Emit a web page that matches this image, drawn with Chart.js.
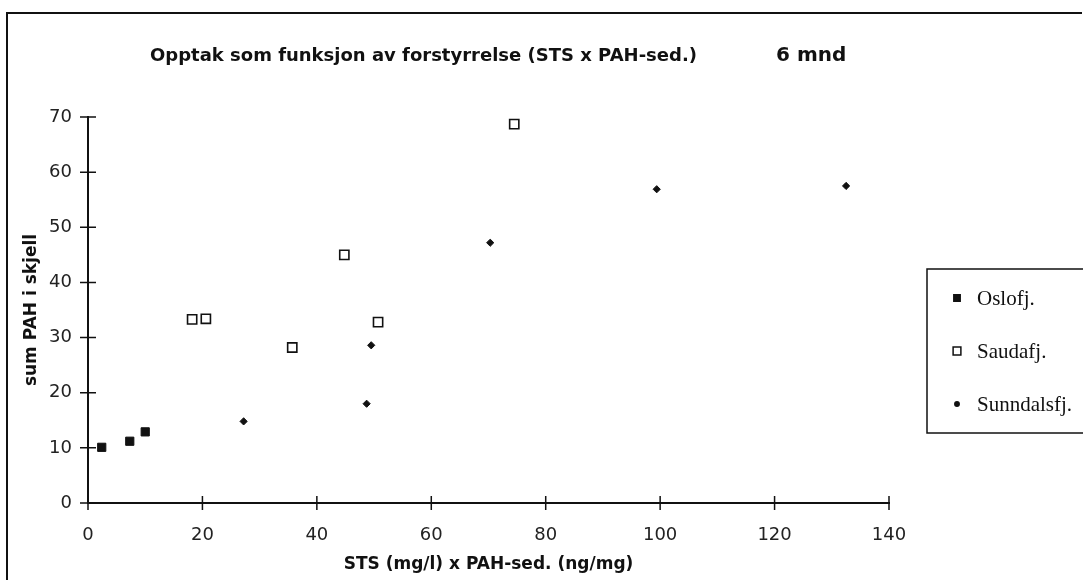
<!DOCTYPE html>
<html>
<head>
<meta charset="utf-8">
<script src="https://cdn.jsdelivr.net/npm/chart.js@4/dist/chart.umd.min.js"></script>
<style>
  html, body { margin: 0; padding: 0; background: #fff; }
  #wrap { width: 1083px; height: 580px; position: relative; }
</style>
</head>
<body>
<div id="wrap"><canvas id="myChart"></canvas></div>
<script>
// data
const osloX = [2.4, 7.3, 10.0];
const osloY = [10.1, 11.2, 12.9];
const saudaX = [18.2, 20.6, 35.7, 44.8, 50.7, 74.5];
const saudaY = [33.3, 33.4, 28.2, 45.0, 32.8, 68.7];
const sunnX = [27.2, 48.7, 49.5, 70.3, 99.4, 132.5];
const sunnY = [14.8, 18.0, 28.6, 47.2, 56.9, 57.5];

const seriesNames = ['Oslofj.', 'Saudafj.', 'Sunndalsfj.'];
const xTicks = [0, 20, 40, 60, 80, 100, 120, 140];
const yTicks = [0, 10, 20, 30, 40, 50, 60, 70];

const toPoints = (xs, ys) => xs.map((x, i) => ({ x: x, y: ys[i] }));

// ramme, tittel, kryssende tick-streker og legendeboks
const paperPlugin = {
  id: 'paper',
  beforeDraw(chart) {
    const ctx = chart.ctx;
    ctx.save();
    ctx.fillStyle = '#fff';
    ctx.fillRect(0, 0, chart.width, chart.height);
    ctx.strokeStyle = '#111';
    ctx.lineWidth = 2;
    ctx.beginPath();
    ctx.moveTo(7, chart.height);
    ctx.lineTo(7, 13);
    ctx.lineTo(1082, 13);
    ctx.stroke();
    ctx.restore();
  },
  afterDraw(chart) {
    const ctx = chart.ctx;
    const xs = chart.scales.x;
    const ys = chart.scales.y;
    const area = chart.chartArea;
    ctx.save();

    // tittel
    ctx.fillStyle = '#111';
    ctx.font = 'bold 18px "DejaVu Sans"';
    ctx.textBaseline = 'middle';
    ctx.textAlign = 'left';
    ctx.fillText('Opptak som funksjon av forstyrrelse (STS x PAH-sed.)', 150, 56);
    ctx.font = 'bold 20px "DejaVu Sans"';
    ctx.fillText('6 mnd', 776, 56);

    // tick-streker på tvers av aksene
    ctx.strokeStyle = '#111';
    ctx.lineWidth = 1.5;
    ctx.beginPath();
    xTicks.forEach(v => {
      const px = xs.getPixelForValue(v);
      ctx.moveTo(px, area.bottom - 7);
      ctx.lineTo(px, area.bottom + 7);
    });
    yTicks.forEach(v => {
      const py = ys.getPixelForValue(v);
      ctx.moveTo(area.left - 8, py);
      ctx.lineTo(area.left + 8, py);
    });
    ctx.stroke();

    // legende
    ctx.lineWidth = 1.5;
    ctx.strokeRect(927, 269, 200, 164);
    ctx.font = '21px "Liberation Serif"';
    const rowY = [298, 351, 404];
    const legendStyle = [
      { pointStyle: 'rect', radius: 4.5, borderWidth: 1, fill: '#111' },
      { pointStyle: 'rect', radius: 5.5, borderWidth: 1.3, fill: '#fff' },
      { pointStyle: 'circle', radius: 2.2, borderWidth: 1, fill: '#111' }
    ];
    seriesNames.forEach((name, i) => {
      ctx.fillStyle = legendStyle[i].fill;
      ctx.strokeStyle = '#111';
      Chart.helpers.drawPoint(ctx, legendStyle[i], 957, rowY[i]);
      ctx.fillStyle = '#111';
      ctx.fillText(name, 977, rowY[i] + 1);
    });
    ctx.restore();
  }
};

const ctx = document.getElementById('myChart').getContext('2d');
const myChart = new Chart(ctx, {
  type: 'scatter',
  data: {
    datasets: [{
      label: seriesNames[0],
      data: toPoints(osloX, osloY),
      pointStyle: 'rect',
      pointRadius: 5.8,
      backgroundColor: '#111',
      borderColor: '#111',
      borderWidth: 1
    }, {
      label: seriesNames[1],
      data: toPoints(saudaX, saudaY),
      pointStyle: 'rect',
      pointRadius: 6.5,
      backgroundColor: '#fff',
      borderColor: '#111',
      borderWidth: 1.6
    }, {
      label: seriesNames[2],
      data: toPoints(sunnX, sunnY),
      pointStyle: 'rectRot',
      pointRadius: 3.6,
      backgroundColor: '#111',
      borderColor: '#111',
      borderWidth: 1
    }]
  },
  options: {
    responsive: true,
    maintainAspectRatio: false,
    animation: false,
    layout: {
      padding: { left: 21, right: 194, top: 117, bottom: 0 }
    },
    plugins: {
      legend: { display: false },
      title: { display: false },
      tooltip: { enabled: false }
    },
    scales: {
      x: {
        type: 'linear',
        min: 0,
        max: 140,
        afterFit: scale => { scale.height = 77; },
        afterBuildTicks: scale => { scale.ticks = xTicks.map(v => ({ value: v })); },
        grid: { display: false },
        border: { display: true, color: '#111', width: 2 },
        ticks: {
          padding: 14,
          color: '#222',
          font: { family: '"DejaVu Sans"', size: 18 }
        },
        title: {
          display: true,
          text: 'STS (mg/l) x PAH-sed. (ng/mg)',
          color: '#111',
          padding: { top: 4, bottom: 5 },
          font: { family: '"DejaVu Sans"', size: 17, weight: 'bold' }
        }
      },
      y: {
        type: 'linear',
        min: 0,
        max: 70,
        afterFit: scale => { scale.width = 67; },
        afterBuildTicks: scale => { scale.ticks = yTicks.map(v => ({ value: v })); },
        grid: { display: false },
        border: { display: true, color: '#111', width: 2 },
        ticks: {
          padding: 8,
          color: '#222',
          font: { family: '"DejaVu Sans"', size: 18 }
        },
        title: {
          display: true,
          text: 'sum PAH i skjell',
          color: '#111',
          padding: { top: 0, bottom: 4 },
          font: { family: '"DejaVu Sans"', size: 17, weight: 'bold' }
        }
      }
    }
  },
  plugins: [paperPlugin]
});
</script>
</body>
</html>
